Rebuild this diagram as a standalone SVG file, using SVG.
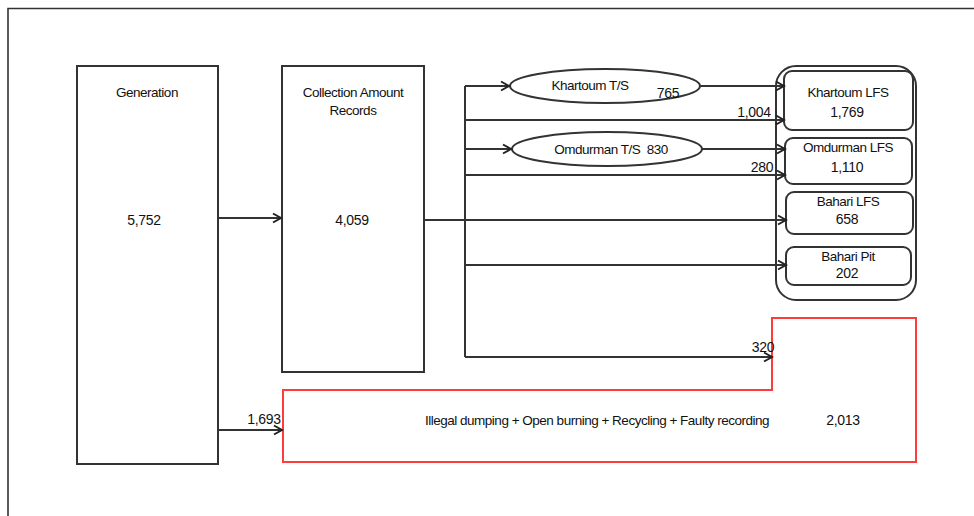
<svg xmlns="http://www.w3.org/2000/svg" width="974" height="516" viewBox="0 0 974 516">
<defs>
<marker id="arr" markerWidth="12" markerHeight="12" refX="10" refY="6" orient="auto" markerUnits="userSpaceOnUse">
<path d="M2,1.5 L10,6 L2,10.5" fill="none" stroke="#222" stroke-width="2"/>
</marker>
<style>
.box{fill:#fff;stroke:#333;stroke-width:2}
.rbox{fill:#fff;stroke:#333;stroke-width:2}
.red{fill:#fff;stroke:#ff3b3b;stroke-width:2}
.ln{fill:none;stroke:#333;stroke-width:2}
.arw{fill:none;stroke:#333;stroke-width:2;marker-end:url(#arr)}
text{font-family:"Liberation Sans",Arial,sans-serif;font-size:13.5px;fill:#111;text-anchor:middle;letter-spacing:-0.5px}
.num{font-size:14px;letter-spacing:-0.3px}
.pre{white-space:pre}
</style>
</defs>
<rect x="0" y="0" width="974" height="516" fill="#fff"/>
<path d="M8,516 L8,8.5 L974,8.5" fill="none" stroke="#333" stroke-width="1.6"/>

<g id="generation">
<rect class="box" x="77" y="66" width="141" height="398"/>
<text x="147" y="97">Generation</text>
<text class="num" x="144" y="225">5,752</text>
</g>
<g id="collection">
<rect class="box" x="282" y="66" width="142" height="306"/>
<text x="353" y="97">Collection Amount</text>
<text x="353" y="115">Records</text>
<text class="num" x="352" y="225">4,059</text>
</g>
<g id="disposal-group">
<rect class="rbox" x="776" y="66" width="140" height="234" rx="20"/>
</g>
<g id="khartoum-lfs">
<rect class="rbox" x="784" y="71" width="129" height="59" rx="8"/>
<text x="848" y="97">Khartoum LFS</text>
<text class="num" x="847" y="117">1,769</text>
</g>
<g id="omdurman-lfs">
<rect class="rbox" x="785" y="138" width="127" height="46" rx="8"/>
<text x="848" y="152">Omdurman LFS</text>
<text class="num" x="847" y="172">1,110</text>
</g>
<g id="bahari-lfs">
<rect class="rbox" x="786" y="192" width="127" height="42" rx="8"/>
<text x="848" y="206">Bahari LFS</text>
<text class="num" x="847" y="224">658</text>
</g>
<g id="bahari-pit">
<rect class="rbox" x="786" y="247" width="125" height="38" rx="8"/>
<text x="848" y="261">Bahari Pit</text>
<text class="num" x="847" y="278">202</text>
</g>
<g id="khartoum-ts">
<ellipse class="box" cx="605" cy="86" rx="95" ry="17"/>
<text x="590" y="90">Khartoum T/S</text>
<text class="num" x="668" y="98">765</text>
</g>
<g id="omdurman-ts">
<ellipse class="box" cx="607" cy="149" rx="95" ry="17"/>
<text class="pre" x="611" y="154">Omdurman T/S  830</text>
</g>
<g id="unaccounted">
<path class="red" d="M283,390 L772,390 L772,318 L916,318 L916,462 L283,462 Z"/>
<text x="597" y="425" textLength="344" lengthAdjust="spacingAndGlyphs">Illegal dumping + Open burning + Recycling + Faulty recording</text>
<text class="num" x="843" y="425">2,013</text>
</g>

<g id="connectors">
<path class="arw" d="M218,218 L281,218"/>
<path class="ln" d="M424,220 L465,220"/>
<path class="ln" d="M465,86 L465,357"/>
<path class="arw" d="M465,86 L509,86"/>
<path class="arw" d="M700,86 L784,86"/>
<path class="arw" d="M465,120 L784,120"/>
<path class="arw" d="M465,149 L511,149"/>
<path class="arw" d="M702,149 L785,149"/>
<path class="arw" d="M465,175 L785,175"/>
<path class="arw" d="M465,220 L786,220"/>
<path class="arw" d="M465,265 L786,265"/>
<path class="arw" d="M465,357 L772,357"/>
<path class="arw" d="M218,430 L282,430"/>
<text class="num" x="754" y="117">1,004</text>
<text class="num" x="762" y="172">280</text>
<text class="num" x="763" y="352">320</text>
<text class="num" x="264" y="424">1,693</text>
</g>
</svg>
